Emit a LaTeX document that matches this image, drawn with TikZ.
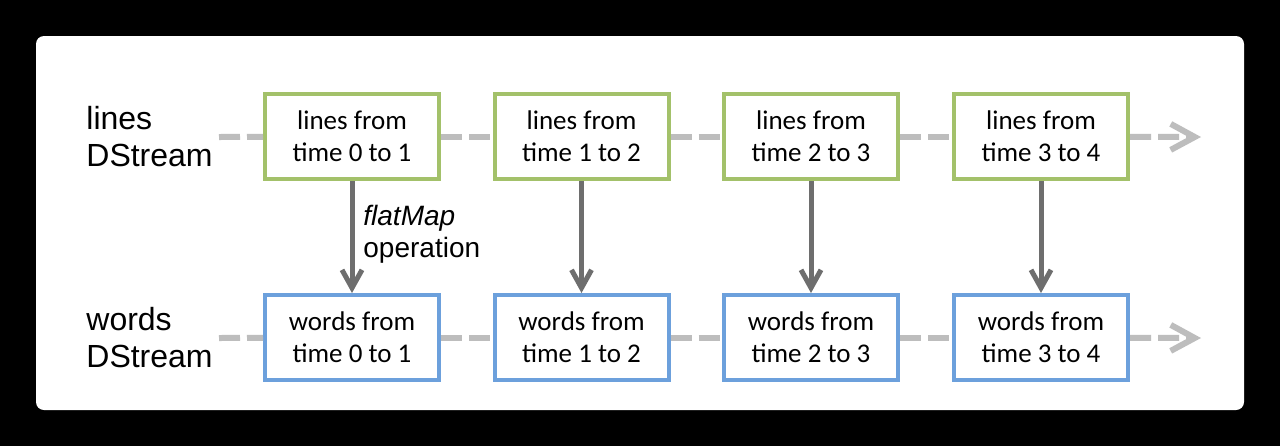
\documentclass[tikz,border=0pt]{standalone}
\usepackage{fontspec}
\setmainfont{Liberation Sans}
\newfontfamily\boxfont{Carlito}
\usepackage{tikz}
\usetikzlibrary{arrows.meta}
\usetikzlibrary{positioning}
\definecolor{linesgreen}{HTML}{A3C16A}
\definecolor{wordsblue}{HTML}{6CA0DC}
\definecolor{streamgray}{HTML}{BDBDBD}
\definecolor{mapgray}{HTML}{6E6E6E}
\tikzset{batch/.style = {draw, line width=2pt, fill=white, inner sep=0pt,
                         minimum width=87pt, minimum height=42.5pt, align=center,
                         font=\boxfont\fontsize{13.5}{16}\selectfont},
         linesbatch/.style = {batch, draw=linesgreen},
         wordsbatch/.style = {batch, draw=wordsblue},
         stream/.style = {draw=streamgray, line width=3pt,
                          dash pattern=on 10.5pt off 3.5pt},
         streamend/.style = {stream, -{Straight Barb[length=12pt,width=13pt]}},
         mapto/.style = {draw=mapgray, line width=2.5pt,
                         -{Straight Barb[length=9pt,width=10pt]}},
         streamname/.style = {anchor=west, inner sep=0pt, align=left,
                              font=\fontsize{16}{18.5}\selectfont}}

\begin{document}
\begin{tikzpicture}[x=0.5pt, y=-0.5pt]
    \useasboundingbox (0, 0) rectangle (1280, 446);
    \fill [black] (0, 0) rectangle (1280, 446);
    \fill [white, rounded corners=4pt] (36, 36) rectangle (1244, 410);

    \node [streamname] (linesname) at (86, 137) {lines\\DStream};
    \node [streamname] (wordsname) at (86, 338) {words\\DStream};

    \foreach \i/\x in {1/352,2/581.5,3/811,4/1041} {
      \pgfmathtruncatemacro\prev{\i-1}
      \node [linesbatch] (l\i) at (\x, 136.5) {lines from\\time \prev{} to \i};
      \node [wordsbatch] (w\i) at (\x, 337.5) {words from\\time \prev{} to \i};
      \draw [mapto] (l\i) -- (w\i);
    }

    \coordinate (lstart) at (219, 137);
    \coordinate (lend) at (1201, 137);
    \coordinate (wstart) at (219, 338);
    \coordinate (wend) at (1201, 338);

    \draw [stream] (lstart) -- (l1);
    \draw [stream] (wstart) -- (w1);
    \foreach \a/\b in {1/2,2/3,3/4} {
      \draw [stream] (l\a) -- (l\b);
      \draw [stream] (w\a) -- (w\b);
    }
    \draw [streamend] (l4) -- (lend);
    \draw [streamend] (w4) -- (wend);

    \coordinate (opmid) at (352, 234);
    \node [right=5.5pt of opmid, inner sep=0pt, align=left,
           font=\fontsize{14}{16}\selectfont] (opname) {\textit{flatMap}\\operation};
  \end{tikzpicture}
\end{document}
